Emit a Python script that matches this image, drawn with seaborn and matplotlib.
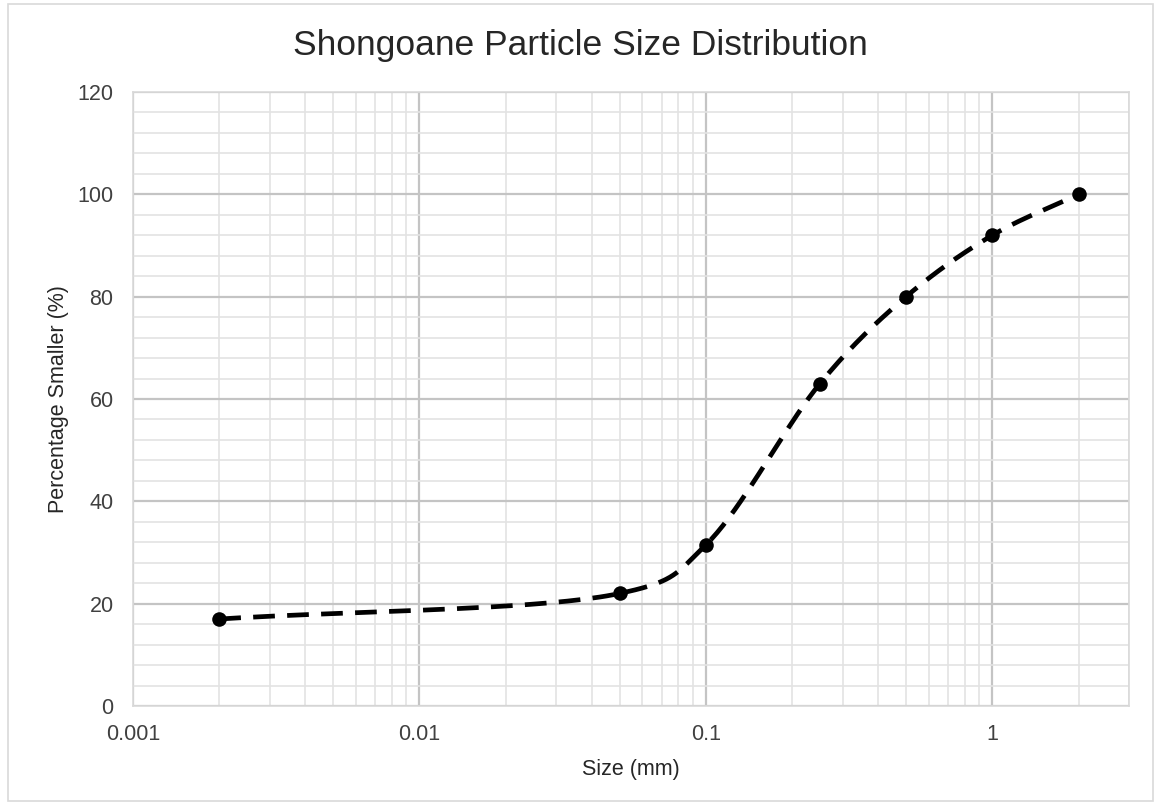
import numpy as np
import pandas as pd
import seaborn as sns
import matplotlib
matplotlib.use("Agg")
import matplotlib.pyplot as plt
from matplotlib.patches import Rectangle
from matplotlib.ticker import LogLocator, FixedLocator, MultipleLocator, FuncFormatter

# ---- data ----
size_mm = [0.002, 0.05, 0.1, 0.25, 0.5, 1.0, 2.0]
pct_smaller = [17, 22, 31.5, 63, 80, 92, 100]
x_ticks = [0.001, 0.01, 0.1, 1]
x_tick_labels = ["0.001", "0.01", "0.1", "1"]
y_ticks = [0, 20, 40, 60, 80, 100, 120]
title = "Shongoane Particle Size Distribution"
xlabel = "Size (mm)"
ylabel = "Percentage Smaller (%)"

sns.set_theme(style="white")
plt.rcParams['font.family'] = ['Liberation Sans', 'DejaVu Sans']

fig = plt.figure(figsize=(11.61, 8.05), dpi=100)
ax = fig.add_axes([133/1161, 1-706/805, (1129-133)/1161, (706-92)/805])

df = pd.DataFrame({"size": size_mm, "pct": pct_smaller})

# Smoothed line: Catmull-Rom (alpha-parameterised) in screen-like space (log-x)
sx, sy = 286.0, 5.13
P = np.column_stack([np.log10(np.asarray(size_mm, float)) * sx,
                     np.asarray(pct_smaller, float) * sy])
ext = np.vstack([2 * P[0] - P[1], P, 2 * P[-1] - P[-2]])
alpha = 0.25
pieces = []
for i in range(1, len(ext) - 2):
    p0, p1, p2, p3 = ext[i - 1], ext[i], ext[i + 1], ext[i + 2]
    t0 = 0.0
    t1 = t0 + np.linalg.norm(p1 - p0) ** alpha
    t2 = t1 + np.linalg.norm(p2 - p1) ** alpha
    t3 = t2 + np.linalg.norm(p3 - p2) ** alpha
    tt = np.linspace(t1, t2, 40)[:, None]
    A1 = (t1 - tt) / (t1 - t0) * p0 + (tt - t0) / (t1 - t0) * p1
    A2 = (t2 - tt) / (t2 - t1) * p1 + (tt - t1) / (t2 - t1) * p2
    A3 = (t3 - tt) / (t3 - t2) * p2 + (tt - t2) / (t3 - t2) * p3
    B1 = (t2 - tt) / (t2 - t0) * A1 + (tt - t0) / (t2 - t0) * A2
    B2 = (t3 - tt) / (t3 - t1) * A2 + (tt - t1) / (t3 - t1) * A3
    C = (t2 - tt) / (t2 - t1) * B1 + (tt - t1) / (t2 - t1) * B2
    pieces.append(C if i == 1 else C[1:])
curve = np.vstack(pieces)
smooth = pd.DataFrame({"size": 10 ** (curve[:, 0] / sx), "pct": curve[:, 1] / sy})

sns.lineplot(data=smooth, x="size", y="pct", ax=ax, color="black", lw=3.4,
             linestyle=(0, (4.6, 2.6)), sort=False, estimator=None, zorder=3)
sns.scatterplot(data=df, x="size", y="pct", ax=ax, color="black", s=110,
                edgecolor="black", linewidth=0, zorder=4)

ax.set_xscale("log")
ax.set_xlim(0.001, 3.0)
ax.set_ylim(0, 120)
ax.xaxis.set_major_locator(FixedLocator(x_ticks))
ax.xaxis.set_major_formatter(FuncFormatter(lambda v, p: x_tick_labels[x_ticks.index(v)] if v in x_ticks else ""))
ax.xaxis.set_minor_locator(LogLocator(base=10, subs=np.arange(2, 10)))
ax.xaxis.set_minor_formatter(FuncFormatter(lambda v, p: ""))
ax.yaxis.set_major_locator(FixedLocator(y_ticks))
ax.yaxis.set_minor_locator(MultipleLocator(4))

ax.grid(which="major", color="#c4c4c4", lw=1.6)
ax.grid(which="minor", color="#e3e3e3", lw=1.2)
ax.set_axisbelow(True)
for s in ax.spines.values():
    s.set_color("#d9d9d9")
    s.set_linewidth(1.2)
ax.tick_params(axis="both", which="both", length=0, labelsize=15.5, colors="#404040")
ax.tick_params(axis="y", pad=14)
ax.tick_params(axis="x", pad=13)

ax.set_xlabel(xlabel, fontsize=15.5, color="#262626", labelpad=10)
ax.set_ylabel(ylabel, fontsize=15.5, color="#262626", labelpad=6)
fig.suptitle(title, x=0.5, y=1-45/805, va="center", fontsize=25.5, color="#262626")

fig.patches.append(Rectangle((8/1161, 4/805), 1-16/1161, 1-8/805, transform=fig.transFigure,
                             fill=False, edgecolor="#d9d9d9", lw=1.2))

fig.savefig("out.png", dpi=100, facecolor="white")
